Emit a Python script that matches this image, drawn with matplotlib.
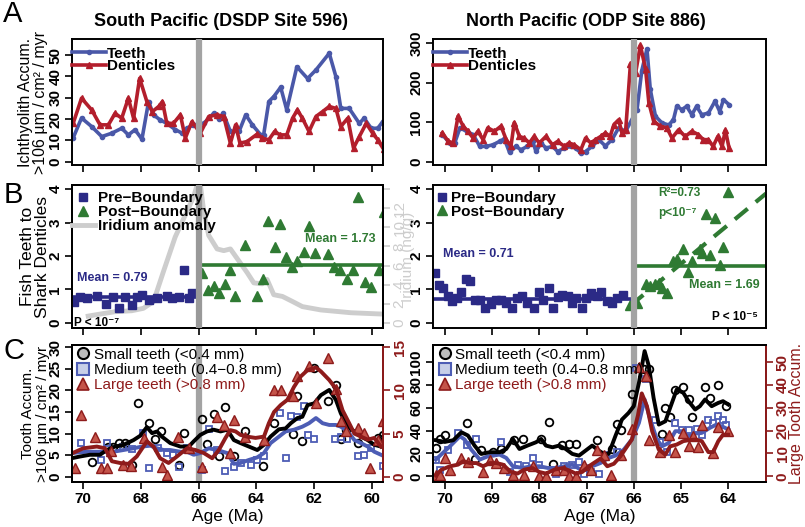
"""
Fish teeth vs. shark denticles across the K/Pg boundary
-------------------------------------------------------
Three stacked panels for the South Pacific (DSDP 596) and
North Pacific (ODP 886) records.
"""
import numpy as np
import matplotlib
matplotlib.use('Agg')
import matplotlib.pyplot as plt
from matplotlib.lines import Line2D

# ---------------- data ----------------
# Panel A - ichthyolith accumulation, South Pacific
sp_teeth_age = [70.34, 70.05, 69.70, 69.35, 69.00, 68.66, 68.43, 68.20, 67.96, 67.73,
                67.56, 67.33, 67.10, 66.80, 66.57, 66.40, 66.19, 65.82, 65.48, 65.30,
                65.15, 64.90, 64.60, 64.37, 64.14, 63.85, 63.75, 63.57, 63.40, 63.16,
                62.95, 62.60, 62.23, 61.94, 61.48, 61.25, 61.08, 60.79, 60.44, 60.27,
                60.03, 59.80, 59.63]
sp_teeth = [11.2, 20.5, 16.5, 11.8, 13.4, 15.7, 12.6, 15.0, 10.6, 28.2,
            22.0, 19.6, 18.0, 15.0, 13.4, 15.7, 17.3, 18.0, 22.7, 20.0,
            22.7, 14.2, 14.2, 22.0, 17.3, 12.6, 12.6, 28.2, 30.5, 34.9,
            24.3, 44.5, 39.0, 43.0, 50.8, 39.9, 25.0, 25.0, 18.0, 20.4,
            15.7, 15.7, 18.8]
sp_dent_age = [70.34, 70.05, 69.70, 69.41, 69.12, 68.89, 68.66, 68.43, 68.25, 68.04,
               67.79, 67.60, 67.38, 67.25, 67.10, 66.87, 66.63, 66.46, 66.23, 65.94,
               65.65, 65.36, 65.13, 64.90, 64.72, 64.57, 64.32, 63.97, 63.80, 63.57,
               63.37, 63.18, 62.95, 62.75, 62.58, 62.41, 62.18, 61.94, 61.71, 61.48,
               61.25, 61.08, 60.84, 60.64, 60.44, 60.20, 59.98, 59.80, 59.60]
sp_dent = [18.0, 29.8, 24.3, 17.3, 17.3, 22.7, 20.4, 29.8, 20.4, 39.1,
           28.2, 23.5, 25.9, 28.2, 18.0, 18.0, 22.0, 11.1, 18.8, 13.4,
           21.2, 22.0, 21.2, 8.7, 17.3, 8.7, 9.5, 13.0, 11.1, 10.3,
           14.2, 12.6, 12.6, 20.4, 24.3, 20.4, 14.2, 21.2, 23.5, 25.9,
           25.0, 16.5, 20.4, 6.4, 11.8, 18.0, 13.4, 10.3, 5.9]

# Panel A - ichthyolith accumulation, North Pacific
np_teeth_age = [70.05, 69.90, 69.79, 69.68, 69.54, 69.40, 69.26, 69.12, 68.98, 68.84,
                68.74, 68.63, 68.49, 68.39, 68.25, 68.14, 68.07, 67.96, 67.86, 67.72,
                67.61, 67.47, 67.33, 67.23, 67.12, 67.02, 66.88, 66.74, 66.60, 66.46,
                66.32, 66.17, 65.93, 65.83, 65.72, 65.65, 65.54, 65.40, 65.26, 65.16,
                65.09, 64.98, 64.88, 64.77, 64.67, 64.56, 64.42, 64.28, 64.18, 64.10,
                63.98]
np_teeth = [68.7, 47.6, 47.6, 85.7, 77, 68.7, 39, 39, 43, 51.7,
            57.7, 23.7, 39, 30.5, 39, 51.7, 26.2, 47.6, 34.8, 39,
            26, 34.8, 39, 34.8, 22, 26, 39, 56, 40, 56,
            85.7, 77, 132, 230, 285, 183, 115, 98, 93, 106,
            140, 132, 140, 119, 140, 119, 123, 153, 127, 157,
            144]
np_dent_age = [70.05, 69.93, 69.82, 69.72, 69.61, 69.51, 69.40, 69.30, 69.19, 69.09,
               68.95, 68.81, 68.70, 68.60, 68.53, 68.42, 68.32, 68.21, 68.11, 68.00,
               67.86, 67.72, 67.61, 67.47, 67.37, 67.26, 67.12, 67.02, 66.91, 66.81,
               66.70, 66.60, 66.50, 66.42, 66.32, 66.25, 66.17, 66.07, 65.96, 65.86,
               65.75, 65.68, 65.58, 65.44, 65.30, 65.19, 65.05, 64.91, 64.77, 64.63,
               64.53, 64.42, 64.32, 64.22, 64.13, 64.06, 63.98]
np_dent = [73, 51.7, 47.6, 115, 90, 77, 60, 77, 56, 85.7,
           77, 90, 56, 39, 99, 64, 60, 47.6, 64, 47.6,
           64, 43, 51.7, 39, 47.6, 43, 30.5, 60, 47.6, 56,
           64, 73, 64, 94, 106, 73, 81, 247, 225, 294,
           234, 149, 103, 90, 86, 60, 81, 64, 77, 68.7,
           56, 56, 39, 64, 39, 80, 34]

# Panel B - teeth:denticle ratio, South Pacific
sp_pre_age = [70.31, 70.10, 69.87, 69.52, 69.20, 68.95, 68.77, 68.54, 68.31, 68.14,
              67.96, 67.73, 67.44, 67.09, 66.92, 66.69, 66.52, 66.34, 66.23]
sp_pre_ratio = [0.64, 0.79, 0.74, 0.81, 0.57, 0.79, 0.44, 0.79, 0.54, 0.79,
                0.84, 0.69, 0.74, 0.81, 0.74, 0.79, 1.58, 0.74, 0.89]
sp_post_age = [65.88, 65.68, 65.48, 65.30, 65.10, 64.92, 64.75, 64.38, 63.99, 63.76,
               63.60, 63.37, 63.18, 62.99, 62.78, 62.58, 62.37, 62.18, 61.97, 61.52,
               61.31, 61.10, 60.87, 60.67, 60.48, 60.24, 60.03, 59.75, 59.60]
sp_post_ratio = [1.48, 0.99, 1.10, 0.89, 1.16, 1.58, 0.81, 2.33, 0.81, 1.30,
                 3.05, 2.26, 2.95, 1.98, 1.66, 1.86, 2.13, 2.90, 2.10, 2.06,
                 1.68, 1.58, 1.30, 1.58, 3.75, 1.23, 1.08, 1.58, 3.32]
sp_pre_mean = 0.79
sp_post_mean = 1.73
ir_age = [69.82, 69.41, 68.89, 68.31, 67.91, 67.56, 67.21, 66.81, 66.46, 66.17,
          65.97, 65.82, 65.65, 65.36, 65.13, 64.90, 64.61, 64.32, 64.09, 63.80,
          63.63, 63.40, 63.10, 62.75, 62.41, 61.77, 60.73, 59.63]
ir_val = [0.74, 0.95, 1.2, 1.3, 1.55, 2.26, 5.44, 8.98, 11.27, 13.2,
          15.2, 11.6, 9.15, 7.74, 7.56, 7.74, 6.5, 5.27, 4.2, 4.1,
          4.56, 2.97, 2.79, 2.26, 1.73, 1.38, 1.09, 0.95]

# Panel B - teeth:denticle ratio, North Pacific
np_pre_age = [70.21, 70.12, 70.04, 69.93, 69.84, 69.74, 69.65, 69.56, 69.46, 69.37,
              69.26, 69.14, 69.02, 68.91, 68.81, 68.70, 68.57, 68.48, 68.36, 68.25,
              68.11, 68.00, 67.92, 67.80, 67.72, 67.61, 67.51, 67.40, 67.31, 67.23,
              67.09, 67.02, 66.91, 66.77, 66.70, 66.56, 66.46, 66.35, 66.23]
np_pre_ratio = [1.49, 1.13, 1.05, 0.80, 0.67, 0.75, 0.93, 1.32, 1.26, 0.70,
                0.70, 0.45, 0.57, 0.70, 0.70, 0.60, 0.45, 0.75, 0.80, 0.60,
                0.45, 0.93, 0.70, 1.05, 0.45, 0.77, 0.83, 0.80, 0.60, 0.75,
                0.45, 0.75, 0.90, 0.80, 0.93, 0.65, 0.60, 0.75, 0.85]
np_post_age = [66.07, 65.93, 65.75, 65.65, 65.56, 65.47, 65.40, 65.30, 65.16, 65.09,
               64.95, 64.86, 64.77, 64.60, 64.55, 64.46, 64.39, 64.29, 64.17, 64.11,
               64.00]
np_post_ratio = [0.55, 0.60, 1.17, 1.10, 1.15, 1.19, 1.05, 0.90, 1.86, 1.92,
                 2.21, 1.52, 1.84, 2.21, 2.08, 3.24, 2.03, 3.12, 1.72, 2.28,
                 3.91]
np_pre_mean = 0.71
np_post_mean = 1.69

# Panel C - tooth size classes, South Pacific (large teeth on right axis)
sp_small_age = [69.70, 69.13, 68.95, 68.77, 68.54, 68.31, 68.08, 67.70, 67.50, 67.30,
                66.69, 66.49, 65.88, 65.71, 65.48, 65.30, 65.10, 64.76, 64.38, 63.76,
                63.39, 62.75, 62.58, 62.41, 62.00, 61.54, 61.25, 61.08, 60.90, 60.50,
                59.80, 59.63]
sp_small = [3.4, 6.9, 6.9, 7.8, 7.8, 2.7, 17.0, 12.5, 8.7, 10.7,
            2.8, 10.1, 13.4, 7.6, 14.5, 4.9, 16.2, 4.8, 10.5, 2.4,
            12.4, 9.9, 18.7, 8.3, 25.1, 17.6, 21.2, 8.7, 10.9, 7.8,
            8.9, 9.7]
sp_small_fit_age = [70.39, 70.10, 69.76, 69.41, 69.18, 68.89, 68.60, 68.25, 68.02, 67.79,
                    67.61, 67.44, 67.27, 66.98, 66.63, 66.34, 66.17, 65.94, 65.71, 65.48,
                    65.24, 65.01, 64.78, 64.55, 64.26, 63.97, 63.74, 63.51, 63.22, 62.99,
                    62.81, 62.58, 62.41, 62.23, 62.00, 61.77, 61.48, 61.25, 61.08, 60.84,
                    60.61, 60.38, 60.15, 59.92, 59.69]
sp_small_fit = [4.3, 4.7, 5.1, 5.1, 6.2, 7.0, 7.4, 8.5, 9.5, 11.5,
                10.1, 10.5, 9.3, 7.8, 7.0, 7.0, 8.2, 9.7, 10.5, 10.9,
                10.5, 10.9, 8.5, 7.8, 7.0, 6.2, 7.4, 9.3, 11.0, 11.2,
                12.4, 13.6, 13.9, 16.6, 17.0, 18.9, 20.1, 17.8, 14.7, 11.6,
                10.5, 9.3, 8.5, 7.4, 7.0]
sp_med_age = [70.08, 69.39, 69.18, 68.62, 68.31, 67.91, 67.70, 67.40, 67.09, 66.89,
              66.69, 66.40, 65.88, 65.65, 65.36, 65.09, 64.78, 64.55, 64.20, 63.97,
              63.74, 63.18, 62.99, 62.81, 62.58, 62.37, 62.21, 62.02, 61.28, 61.08,
              60.85, 60.50, 60.27, 60.03, 59.63]
sp_med = [7.8, 3.9, 7.8, 7.0, 6.5, 10.1, 2.0, 6.6, 5.5, 5.1,
          2.2, 6.6, 1.6, 11.0, 6.2, 1.4, 2.2, 3.2, 2.8, 3.9,
          4.8, 14.7, 4.3, 14.1, 13.8, 16.4, 9.7, 8.7, 8.7, 9.3,
          8.7, 4.8, 5.1, 6.6, 2.5]
sp_med_fit_age = [70.39, 69.87, 69.41, 68.95, 68.60, 68.25, 67.96, 67.67, 67.44, 67.21,
                  66.98, 66.63, 66.40, 66.17, 65.94, 65.65, 65.36, 65.01, 64.78, 64.55,
                  64.26, 63.97, 63.74, 63.51, 63.22, 62.99, 62.70, 62.41, 62.18, 61.94,
                  61.71, 61.48, 61.25, 61.08, 60.84, 60.61, 60.38, 60.15, 59.92, 59.69]
sp_med_fit = [5.5, 5.8, 5.8, 5.8, 6.2, 6.6, 7.0, 7.2, 6.6, 6.2,
              6.2, 5.8, 5.8, 5.1, 5.5, 6.6, 6.2, 5.5, 3.0, 3.2,
              3.9, 4.5, 5.5, 7.8, 9.3, 10.5, 10.9, 11.6, 12.4, 13.6,
              12.4, 12.0, 12.0, 11.6, 10.5, 8.5, 7.8, 7.0, 5.8, 5.1]
sp_large_age = [70.28, 70.08, 69.58, 69.39, 69.18, 69.04, 68.60, 68.34, 67.88, 67.27,
                67.09, 66.72, 66.34, 65.88, 65.36, 65.13, 64.90, 64.76, 64.38, 63.74,
                63.39, 63.16, 62.75, 62.58, 62.18, 61.94, 61.52, 61.25, 61.08, 60.90,
                60.50, 60.27, 60.06, 59.80, 59.63]
sp_large = [1.0, 7.2, 4.6, 1.0, 1.0, 3.0, 1.4, 1.3, 4.5, 1.1,
            0.2, 4.65, 3.3, 1.1, 6.9, 6.0, 2.7, 6.6, 4.65, 4.3,
            10.0, 10.0, 9.3, 11.7, 12.8, 8.5, 13.7, 10.2, 6.4, 5.35,
            5.6, 5.1, 1.0, 4.3, 6.4]
sp_large_fit_age = [70.39, 69.99, 69.52, 69.24, 69.00, 68.72, 68.43, 68.14, 67.79, 67.56,
                    67.33, 67.04, 66.75, 66.40, 66.11, 65.82, 65.53, 65.30, 65.07, 64.90,
                    64.72, 64.55, 64.32, 64.03, 63.74, 63.57, 63.39, 63.16, 62.93, 62.70,
                    62.47, 62.23, 61.94, 61.77, 61.48, 61.25, 61.02, 60.79, 60.61, 60.38,
                    60.15, 59.92, 59.69]
sp_large_fit = [2.7, 3.3, 3.5, 3.3, 1.8, 1.6, 1.5, 2.35, 4.1, 3.5,
                2.15, 1.6, 2.35, 3.3, 3.1, 2.75, 2.15, 3.1, 4.5, 5.4,
                5.25, 4.85, 4.65, 4.5, 4.65, 6.2, 7.5, 8.3, 8.9, 10.4,
                11.6, 12.35, 12.65, 12.2, 11.2, 10.2, 7.7, 6.2, 5.0, 4.65,
                4.3, 4.5, 3.5]

# Panel C - tooth size classes, North Pacific (large teeth on right axis)
np_small_age = [70.19, 70.11, 70.00, 69.54, 69.37, 69.23, 68.98, 68.81, 68.53, 68.34,
                67.96, 67.79, 67.71, 67.51, 67.37, 67.23, 66.77, 66.46, 66.35, 66.28,
                66.04, 65.79, 65.68, 65.40, 65.33, 65.23, 65.12, 64.95, 64.84, 64.77,
                64.49, 64.39, 64.21, 64.04]
np_small = [25.2, 33.0, 36.0, 46.8, 15.5, 22.8, 21.3, 24.3, 31.6, 33.0,
            33.0, 47.7, 10.5, 27.2, 28.1, 28.1, 32.2, 24.3, 46.2, 40.3,
            72.5, 93.6, 93.6, 37.4, 59.9, 52.0, 76.0, 78.4, 67.3, 52.0,
            78.4, 68.7, 80.0, 61.4]
np_small_fit_age = [70.19, 70.00, 69.82, 69.65, 69.51, 69.37, 69.23, 69.05, 68.84, 68.70,
                    68.56, 68.42, 68.25, 68.07, 67.96, 67.86, 67.72, 67.58, 67.44, 67.30,
                    67.16, 67.02, 66.88, 66.74, 66.63, 66.53, 66.39, 66.25, 66.11, 66.00,
                    65.89, 65.77, 65.68, 65.58, 65.47, 65.33, 65.23, 65.09, 64.95, 64.84,
                    64.70, 64.60, 64.49, 64.35, 64.21, 64.11, 64.00]
np_small_fit = [31.6, 30.1, 31.6, 38.6, 35.7, 26.9, 19.6, 21.1, 21.1, 23.9,
                32.7, 23.9, 26.9, 29.8, 32.7, 26.9, 25.4, 26.9, 23.9, 19.6,
                18.1, 22.5, 26.9, 22.5, 19.6, 19.6, 35.1, 49.7, 55.5, 61.4,
                81.9, 109.7, 96.5, 68.7, 45.3, 48.2, 59.9, 76.0, 73.1, 65.8,
                58.5, 61.4, 67.3, 61.4, 64.3, 65.8, 62.9]
np_med_age = [70.19, 70.11, 69.93, 69.72, 69.54, 69.35, 68.81, 68.63, 68.46, 68.28,
              68.14, 68.00, 67.65, 67.47, 67.30, 67.16, 67.05, 66.91, 66.74, 66.60,
              66.35, 65.95, 65.75, 65.54, 65.44, 65.30, 65.12, 64.98, 64.84, 64.67,
              64.56, 64.42, 64.32, 64.21, 64.11, 64.04]
np_med = [14.6, 5.8, 23.4, 38.0, 27.0, 32.8, 29.8, 3.8, 10.2, 8.8,
          16.1, 10.2, 2.3, 9.4, 10.2, 12.6, 2.3, 3.8, 2.3, 19.0,
          21.3, 95.0, 84.8, 49.7, 30.1, 21.3, 46.8, 40.9, 40.9, 41.5,
          36.5, 49.7, 46.8, 53.0, 49.7, 45.3]
np_med_fit_age = [70.19, 70.04, 69.89, 69.68, 69.58, 69.44, 69.26, 69.09, 68.84, 68.70,
                  68.56, 68.35, 68.17, 68.00, 67.82, 67.65, 67.47, 67.30, 67.12, 66.98,
                  66.84, 66.70, 66.53, 66.39, 66.21, 66.04, 65.89, 65.77, 65.65, 65.51,
                  65.40, 65.26, 65.12, 64.98, 64.84, 64.70, 64.56, 64.39, 64.25, 64.11,
                  64.00]
np_med_fit = [14.6, 20.5, 26.3, 35.1, 32.2, 23.4, 14.6, 17.5, 19.0, 16.1,
              8.8, 7.3, 8.8, 8.8, 7.3, 7.3, 8.8, 10.2, 5.8, 8.8,
              9.4, 11.7, 16.1, 18.1, 23.4, 32.2, 46.8, 67.3, 49.7, 32.2,
              26.3, 29.2, 39.5, 39.5, 35.1, 37.4, 38.0, 42.4, 45.3, 43.3,
              41.0]
np_large_age = [70.19, 70.11, 70.00, 69.89, 69.65, 69.51, 69.19, 69.05, 68.91, 68.74,
                68.56, 68.32, 68.14, 68.00, 67.86, 67.65, 67.47, 67.37, 67.23, 67.05,
                66.91, 66.77, 66.63, 66.49, 66.28, 66.04, 65.89, 65.75, 65.67, 65.44,
                65.26, 65.12, 64.95, 64.84, 64.74, 64.63, 64.56, 64.32, 64.21, 64.00]
np_large = [0.45, 0.45, 7.8, 2.8, 7.8, 6.3, 1.9, 7.3, 5.8, 3.6,
            0.45, 0.45, 4.4, 0.0, 0.0, 2.9, 2.9, 0.0, 0.0, 5.1,
            2.9, 11.7, 9.5, 0.45, 9.5, 20.5, 48.0, 44.0, 16.0, 10.6,
            18.2, 10.6, 19.0, 13.1, 17.5, 13.0, 22.6, 10.0, 21.6, 19.7]
np_large_fit_age = [70.19, 70.07, 69.89, 69.72, 69.61, 69.47, 69.33, 69.19, 69.05, 68.91,
                    68.77, 68.60, 68.46, 68.32, 68.14, 68.00, 67.86, 67.68, 67.51, 67.37,
                    67.23, 67.09, 66.95, 66.81, 66.70, 66.56, 66.42, 66.28, 66.14, 66.04,
                    65.91, 65.83, 65.72, 65.61, 65.47, 65.33, 65.23, 65.09, 64.95, 64.84,
                    64.70, 64.56, 64.42, 64.32, 64.21, 64.11, 64.00]
np_large_fit = [0.45, 2.9, 4.4, 5.1, 6.6, 5.8, 5.8, 4.4, 5.8, 5.8,
                5.1, 1.9, 1.2, 2.9, 3.6, 1.9, 1.2, 2.9, 3.6, 2.6,
                1.2, 1.9, 4.4, 6.3, 7.8, 4.4, 5.5, 8.8, 13.1, 16.1,
                26.8, 36.3, 30.7, 19.7, 11.7, 9.5, 13.1, 13.9, 15.4, 15.8,
                16.1, 15.4, 10.6, 10.6, 15.4, 18.2, 18.2]

kpg_age = 66.0
sp_xticks = [70, 68, 66, 64, 62, 60]
np_xticks = [70, 69, 68, 67, 66, 65, 64]

# ---------------- style ----------------
plt.rcParams['font.family'] = ['Liberation Sans', 'DejaVu Sans']
plt.rcParams['font.weight'] = 'bold'
plt.rcParams['axes.linewidth'] = 1.4

teeth_blue = '#4a58a8'
dent_red = '#b31e2c'
navy = '#2b2a86'
green = '#2f7a33'
ir_gray = '#cdcdcd'
kpg_gray = '#a3a3a3'
med_blue = '#4d5db5'
large_red = '#8e1b1b'
large_fill = '#c4544a'

sp_xlim = (70.38, 59.62)
np_xlim = (70.25, 63.2)


def setup_axis(ax, xlim, xticks, ylim, yticks, xlabels=False):
    ax.set_xlim(*xlim)
    ax.set_ylim(*ylim)
    ax.set_xticks(xticks)
    ax.set_yticks(yticks)
    ax.set_yticklabels([str(v) for v in yticks], rotation=90, va='center')
    ax.tick_params(direction='out', length=5, width=1.2, labelsize=11, pad=2)
    if xlabels:
        ax.set_xticklabels([str(v) for v in xticks])
        ax.set_xlabel('Age (Ma)', fontsize=12.5, labelpad=2)
    else:
        ax.tick_params(axis='x', labelbottom=False)


fig = plt.figure(figsize=(8.05, 5.27), dpi=100)
W, H = 805.0, 527.0
col_left = (72 / W, 311 / W)
col_right = (433 / W, 333 / W)
row_a = (1 - 165 / H, 126 / H)
row_b = (1 - 328 / H, 143 / H)
row_c = (1 - 482 / H, 137 / H)

axA1 = fig.add_axes([col_left[0], row_a[0], col_left[1], row_a[1]])
axA2 = fig.add_axes([col_right[0], row_a[0], col_right[1], row_a[1]])
axB1 = fig.add_axes([col_left[0], row_b[0], col_left[1], row_b[1]])
axB2 = fig.add_axes([col_right[0], row_b[0], col_right[1], row_b[1]])
axC1 = fig.add_axes([col_left[0], row_c[0], col_left[1], row_c[1]])
axC2 = fig.add_axes([col_right[0], row_c[0], col_right[1], row_c[1]])

# ---------------- panel A ----------------
for ax, t_age, t_val, d_age, d_val in [(axA1, sp_teeth_age, sp_teeth, sp_dent_age, sp_dent),
                                        (axA2, np_teeth_age, np_teeth, np_dent_age, np_dent)]:
    ax.plot(t_age, t_val, color=teeth_blue, lw=2.6, marker='o', ms=3)
    ax.plot(d_age, d_val, color=dent_red, lw=2.6, marker='^', ms=4.5)
    ax.axvline(kpg_age, color=kpg_gray, lw=4.5, zorder=5)
    leg_handles = [Line2D([], [], color=teeth_blue, lw=2.6, marker='o', ms=3),
                   Line2D([], [], color=dent_red, lw=2.6, marker='^', ms=4.5)]
    ax.legend(leg_handles, ['Teeth', 'Denticles'], loc='upper left',
              bbox_to_anchor=(0.0, 0.94), frameon=False, handlelength=2.2,
              handletextpad=0.1, labelspacing=-0.1, borderpad=0, borderaxespad=0,
              prop={'size': 11, 'weight': 'bold'})

setup_axis(axA1, sp_xlim, sp_xticks, (-1.5, 57.5), [0, 10, 20, 30, 40, 50])
setup_axis(axA2, np_xlim, np_xticks, (-8, 310), [0, 100, 200, 300])
axA1.set_ylabel('Ichthyolith Accum.\n>106 µm / cm² / myr', fontsize=11.5,
                fontweight='normal', linespacing=1.0)
axA1.yaxis.set_label_coords(-0.078, 0.5)

# ---------------- panel B ----------------
# South Pacific with iridium anomaly on a second axis, drawn behind
ax_ir = axB1.twinx()
axB1.set_zorder(ax_ir.get_zorder() + 1)
axB1.patch.set_visible(False)
ax_ir.plot(ir_age, ir_val, color=ir_gray, lw=3.5)
ax_ir.set_ylim(-0.5, 14.4)
ax_ir.set_yticks(range(0, 16, 2))
ax_ir.set_yticklabels(['0', '2', '4', '6', '8', '10', '12', ''], rotation=90,
                      va='center', color=ir_gray, fontweight='normal')
ax_ir.tick_params(direction='out', length=5, width=1.2, labelsize=11, pad=2,
                  colors=ir_gray)
ax_ir.set_ylabel('Iridium (ng/g)', color=ir_gray, fontsize=11, fontweight='normal')
ax_ir.yaxis.set_label_coords(1.058, 0.5)

axB1.plot(sp_pre_age, sp_pre_ratio, ls='none', marker='s', ms=5.5, color=navy)
axB1.plot(sp_post_age, sp_post_ratio, ls='none', marker='^', ms=7, color=green)
axB1.hlines(sp_pre_mean, sp_xlim[0], kpg_age, color=navy, lw=2.6)
axB1.hlines(sp_post_mean, kpg_age, sp_xlim[1], color=green, lw=2.6)
axB1.axvline(kpg_age, color='#999999', lw=4.5, zorder=5)
setup_axis(axB1, sp_xlim, sp_xticks, (-0.15, 4.12), [0, 1, 2, 3, 4])
axB1.set_ylabel('Fish Teeth to\nShark Denticles', fontsize=12.5, fontweight='normal',
                linespacing=0.95)
axB1.yaxis.set_label_coords(-0.072, 0.5)
axB1.text(0.016, 0.35, 'Mean = %.2f' % sp_pre_mean, transform=axB1.transAxes,
          color=navy, fontsize=9, va='center')
axB1.text(0.975, 0.62, 'Mean = %.2f' % sp_post_mean, transform=axB1.transAxes,
          color=green, fontsize=9, va='center', ha='right')
axB1.text(0.008, 0.035, 'P < 10⁻⁷', transform=axB1.transAxes, fontsize=8.5,
          va='center')
b_handles = [Line2D([], [], ls='none', marker='s', ms=5.5, color=navy),
             Line2D([], [], ls='none', marker='^', ms=7, color=green),
             Line2D([], [], color=ir_gray, lw=3.5)]
axB1.legend(b_handles, ['Pre−Boundary', 'Post−Boundary', 'Iridium anomaly'],
            loc='upper left', bbox_to_anchor=(0.0, 0.955), frameon=False,
            handlelength=1.5, handletextpad=0.2, labelspacing=0.0, borderpad=0,
            borderaxespad=0, prop={'size': 11, 'weight': 'bold'})

# North Pacific with linear trend of the post-boundary ratios
axB2.plot(np_pre_age, np_pre_ratio, ls='none', marker='s', ms=5.5, color=navy)
axB2.plot(np_post_age, np_post_ratio, ls='none', marker='^', ms=7, color=green)
axB2.hlines(np_pre_mean, np_xlim[0], kpg_age, color=navy, lw=2.6)
axB2.hlines(np_post_mean, kpg_age, np_xlim[1], color=green, lw=2.6)
fit = np.polyfit(np_post_age, np_post_ratio, 1)
fit_x = np.array([np_post_age[0], np_xlim[1]])
axB2.plot(fit_x, np.polyval(fit, fit_x), color=green, lw=3, dashes=(4, 2.5))
axB2.axvline(kpg_age, color=kpg_gray, lw=4.5, zorder=5)
setup_axis(axB2, np_xlim, np_xticks, (-0.15, 4.12), [0, 1, 2, 3, 4])
axB2.text(0.03, 0.52, 'Mean = %.2f' % np_pre_mean, transform=axB2.transAxes,
          color=navy, fontsize=9, va='center')
axB2.text(0.982, 0.30, 'Mean = %.2f' % np_post_mean, transform=axB2.transAxes,
          color=green, fontsize=9, va='center', ha='right')
axB2.text(0.676, 0.945, 'R²=0.73', transform=axB2.transAxes, color=green,
          fontsize=8.5, va='center')
axB2.text(0.676, 0.805, 'p<10⁻⁷', transform=axB2.transAxes, color=green,
          fontsize=8.5, va='center')
axB2.text(0.976, 0.077, 'P < 10⁻⁵', transform=axB2.transAxes, fontsize=8.5,
          va='center', ha='right')
axB2.legend(b_handles[:2], ['Pre−Boundary', 'Post−Boundary'], loc='upper left',
            bbox_to_anchor=(0.008, 0.955), frameon=False, handlelength=0.8,
            handletextpad=0.2, labelspacing=-0.05, borderpad=0, borderaxespad=0,
            prop={'size': 11, 'weight': 'bold'})

# ---------------- panel C ----------------
c_sets = [(axC1, sp_xlim, sp_xticks, (-1.2, 30.5), [0, 5, 10, 15, 20, 25, 30],
           [0, 5, 10, 15],
           sp_small_age, sp_small, sp_small_fit_age, sp_small_fit,
           sp_med_age, sp_med, sp_med_fit_age, sp_med_fit,
           sp_large_age, sp_large, sp_large_fit_age, sp_large_fit),
          (axC2, np_xlim, np_xticks, (-5, 115), [0, 20, 40, 60, 80, 100],
           [0, 10, 20, 30, 40, 50],
           np_small_age, np_small, np_small_fit_age, np_small_fit,
           np_med_age, np_med, np_med_fit_age, np_med_fit,
           np_large_age, np_large, np_large_fit_age, np_large_fit)]

c_twins = []
for (ax, xlim, xticks, ylim, yticks, rticks, s_age, s_val, sf_age, sf_val,
     m_age, m_val, mf_age, mf_val, l_age, l_val, lf_age, lf_val) in c_sets:
    ax.axvline(kpg_age, color=kpg_gray, lw=4.5, zorder=1)
    ax.plot(s_age, s_val, ls='none', marker='o', ms=5.5, mfc='none', mec='black', mew=1.3)
    ax.plot(m_age, m_val, ls='none', marker='s', ms=5, mfc='none', mec=med_blue, mew=1.3)
    ax.plot(mf_age, mf_val, color=med_blue, lw=2.8)
    ax.plot(sf_age, sf_val, color='black', lw=2.8)
    setup_axis(ax, xlim, xticks, ylim, yticks, xlabels=True)

    tw = ax.twinx()
    tw.plot(l_age, l_val, ls='none', marker='^', ms=6.5, mfc=large_fill, mec=large_red, mew=1)
    tw.plot(lf_age, lf_val, color=large_red, lw=2.8)
    tw.set_ylim(ylim[0] / 2, ylim[1] / 2)
    tw.set_yticks(rticks)
    tw.set_yticklabels([str(v) for v in rticks], rotation=90, va='center',
                       color=large_red)
    tw.tick_params(direction='out', length=5, width=1.2, labelsize=11, pad=2,
                   colors=large_red)
    tw.spines['right'].set_color(large_red)
    c_twins.append(tw)

    c_handles = [Line2D([], [], ls='none', marker='o', ms=8, mfc='#bdbdbd', mec='black', mew=1.5),
                 Line2D([], [], ls='none', marker='s', ms=8, mfc='#c7cfe8', mec=med_blue, mew=1.5),
                 Line2D([], [], ls='none', marker='^', ms=9, mfc=large_fill, mec=large_red, mew=1.2)]
    tw.legend(c_handles, ['Small teeth (<0.4 mm)', 'Medium teeth (0.4−0.8 mm)',
                          'Large teeth (>0.8 mm)'],
              labelcolor=['black', 'black', large_red], loc='upper left',
              bbox_to_anchor=(0.012, 0.985), frameon=False, handlelength=0.9,
              handletextpad=0.25, labelspacing=0.08, borderpad=0.05,
              borderaxespad=0, prop={'size': 11, 'weight': 'normal'})

axC1.set_ylabel('Tooth Accum.\n>106 µm / cm² / myr', fontsize=11, fontweight='normal',
                linespacing=1.05)
axC1.yaxis.set_label_coords(-0.072, 0.5)
c_twins[1].set_ylabel('Large Tooth Accum.', color=large_red, fontsize=11.5,
                      fontweight='normal')
c_twins[1].yaxis.set_label_coords(1.07, 0.5)

# ---------------- titles and panel letters ----------------
fig.text(221 / W, 1 - 22 / H, 'South Pacific (DSDP Site 596)', ha='center',
         va='center', fontsize=13)
fig.text(586 / W, 1 - 22 / H, 'North Pacific (ODP Site 886)', ha='center',
         va='center', fontsize=13)
for letter, ytop in [('A', 1.0), ('B', 1 - 181 / H), ('C', 1 - 337 / H)]:
    fig.text(0.004, ytop, letter, fontsize=21, fontweight='normal', va='top')

fig.savefig('out.png', dpi=100)
